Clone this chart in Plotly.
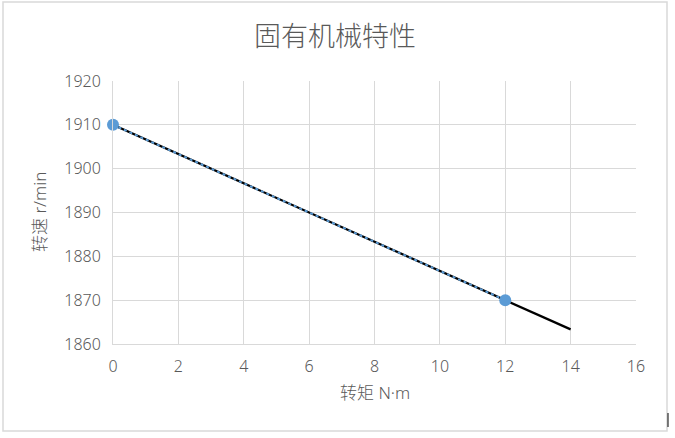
import plotly.graph_objects as go

torque = [0, 12]
speed = [1910, 1870]
trend_x = [0, 14]
trend_y = [1910, 1863.33]
x_ticks = [0, 2, 4, 6, 8, 10, 12, 14, 16]
y_ticks = [1860, 1870, 1880, 1890, 1900, 1910, 1920]

FONT = "Noto Sans, Noto Sans CJK SC"
W, H = 675, 438
L, R, T, B = 113, 636, 81, 344

fig = go.Figure()
fig.add_trace(go.Scatter(x=trend_x, y=trend_y, mode="lines",
                         line=dict(color="black", width=2.25), showlegend=False))
fig.add_trace(go.Scatter(x=torque, y=speed, mode="lines+markers", cliponaxis=False,
                         line=dict(color="#5b9bd5", width=2, dash="dot"),
                         marker=dict(color="#5b9bd5", size=12), showlegend=False))

fig.update_layout(
    width=W, height=H,
    margin=dict(l=L, r=W - R, t=T, b=H - B),
    paper_bgcolor="white", plot_bgcolor="white",
    font=dict(family=FONT, color="#595959"),
    xaxis=dict(range=[0, 16], tickvals=x_ticks, showgrid=True, gridcolor="#d9d9d9",
               gridwidth=1, zeroline=False, showline=True, linecolor="#d9d9d9",
               ticks="outside", ticklen=8, tickcolor="rgba(0,0,0,0)",
               tickfont=dict(size=16, color="#595959", family=FONT, weight=300)),
    yaxis=dict(range=[1860, 1920], tickvals=y_ticks, showgrid=True, gridcolor="#d9d9d9",
               gridwidth=1, zeroline=False, showline=True, linecolor="#d9d9d9",
               ticks="outside", ticklen=8, tickcolor="rgba(0,0,0,0)",
               tickfont=dict(size=16, color="#595959", family=FONT, weight=300)),
    annotations=[
        dict(text="固有机械特性", xref="paper", yref="paper",
             x=(335 - L) / (R - L), y=(B - 36) / (B - T), xanchor="center", yanchor="middle",
             showarrow=False, font=dict(size=27, color="#595959", family=FONT, weight=300)),
        dict(text="转矩 N·m", xref="paper", yref="paper",
             x=(375 - L) / (R - L), y=(B - 392) / (B - T), xanchor="center", yanchor="middle",
             showarrow=False, font=dict(size=17, color="#595959", family=FONT, weight=300)),
        dict(text="转速 r/min", xref="paper", yref="paper", textangle=-90,
             x=(39 - L) / (R - L), y=(B - 212) / (B - T), xanchor="center", yanchor="middle",
             showarrow=False, font=dict(size=17, color="#595959", family=FONT, weight=300)),
    ],
    shapes=[
        dict(type="rect", xref="paper", yref="paper",
             x0=(3 - L) / (R - L), x1=(667 - L) / (R - L),
             y0=(B - 431) / (B - T), y1=(B - 2) / (B - T),
             line=dict(color="#d9d9d9", width=1.5), layer="below"),
        dict(type="line", xref="paper", yref="paper",
             x0=(668 - L) / (R - L), x1=(668 - L) / (R - L),
             y0=(B - 427) / (B - T), y1=(B - 413) / (B - T),
             line=dict(color="black", width=1)),
    ],
)
fig.write_html("out.html", config={"displayModeBar": False},
               post_script="document.body.style.margin='0';document.body.style.overflow='hidden';")
